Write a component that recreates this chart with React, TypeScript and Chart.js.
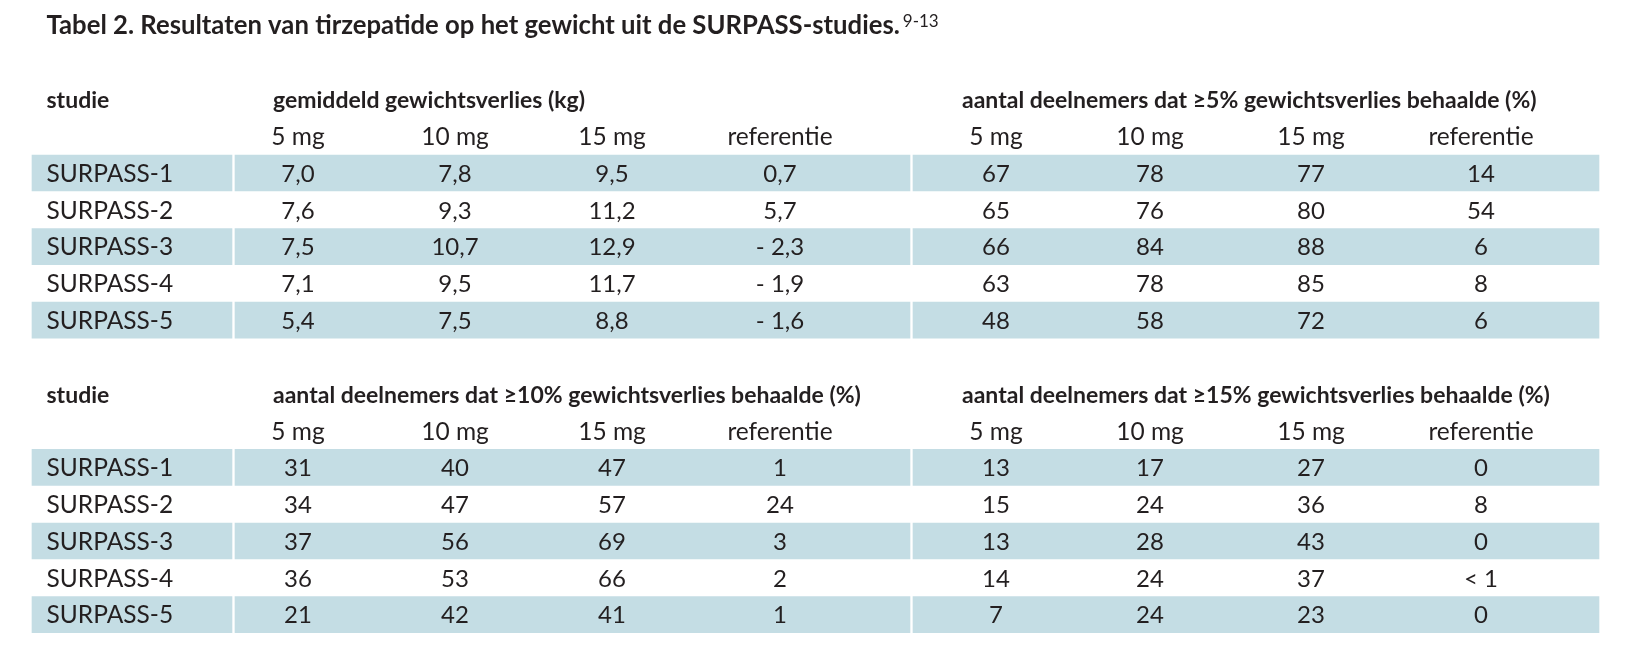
import React, { useEffect, useRef } from 'react';
import { Chart, registerables } from 'chart.js';

Chart.register(...registerables);

// ---------- DATA ----------
const title = 'Tabel 2. Resultaten van tirzepatide op het gewicht uit de SURPASS-studies.';
const titleRefs = '9-13';
const studyHeader = 'studie';
const studies = ['SURPASS-1', 'SURPASS-2', 'SURPASS-3', 'SURPASS-4', 'SURPASS-5'];
const doses = ['5 mg', '10 mg', '15 mg', 'referentie'];
const groupTitles = [
  'gemiddeld gewichtsverlies (kg)',
  'aantal deelnemers dat ≥5% gewichtsverlies behaalde (%)',
  'aantal deelnemers dat ≥10% gewichtsverlies behaalde (%)',
  'aantal deelnemers dat ≥15% gewichtsverlies behaalde (%)',
];

// mean weight loss (kg)
const kg5mg = [7.0, 7.6, 7.5, 7.1, 5.4];
const kg10mg = [7.8, 9.3, 10.7, 9.5, 7.5];
const kg15mg = [9.5, 11.2, 12.9, 11.7, 8.8];
const kgRef = [0.7, 5.7, -2.3, -1.9, -1.6];

// participants reaching >=5% weight loss (%)
const ge5pct5mg = [67, 65, 66, 63, 48];
const ge5pct10mg = [78, 76, 84, 78, 58];
const ge5pct15mg = [77, 80, 88, 85, 72];
const ge5pctRef = [14, 54, 6, 8, 6];

// participants reaching >=10% weight loss (%)
const ge10pct5mg = [31, 34, 37, 36, 21];
const ge10pct10mg = [40, 47, 56, 53, 42];
const ge10pct15mg = [47, 57, 69, 66, 41];
const ge10pctRef = [1, 24, 3, 2, 1];

// participants reaching >=15% weight loss (%)
const ge15pct5mg = [13, 15, 13, 14, 7];
const ge15pct10mg = [17, 24, 28, 24, 24];
const ge15pct15mg = [27, 36, 43, 37, 23];
const ge15pctRef: (number | string)[] = [0, 8, 0, '< 1', 0];

// ---------- LAYOUT / STYLE ----------
const W = 1632;
const H = 672;
const Y_MIN = -4.7;
const Y_MAX = 13.56;
const TABLE_ROW_START = [0, 8];
const LABEL_BLOCK = [32, 232];
const LEFT_BLOCK = [235, 910];
const RIGHT_BLOCK = [913, 1599];
const LEFT_COLS = [298, 455, 612, 780];
const RIGHT_COLS = [996, 1150, 1311, 1481];
const LABEL_X = 46.5;
const LEFT_HEADER_X = 273;
const RIGHT_HEADER_X = 962;
const TITLE_X = 46.5;
const TITLE_ROW = -3.77;
const HEADER_ROW = -1.76;
const SUBHEADER_ROW = -0.75;
const STRIPE = '#c4dde4';
const INK = '#231f20';
const FONT = 'Lato, "Open Sans", sans-serif';
const TITLE_SIZE = 25.7;
const HEADER_SIZE = 23;
const BODY_SIZE = 24.5;
const NUM_SIZE = 24;
const ROW_BASE = 8.8;

const fmtKg = (v: number) => (v < 0 ? '- ' : '') + Math.abs(v).toFixed(1).replace('.', ',');
const fmtPct = (v: number | string) => (typeof v === 'number' ? String(v) : v);

const panels = [
  { row0: TABLE_ROW_START[0], cols: LEFT_COLS, hx: LEFT_HEADER_X, title: groupTitles[0], series: [kg5mg, kg10mg, kg15mg, kgRef], fmt: (v: any) => fmtKg(v) },
  { row0: TABLE_ROW_START[0], cols: RIGHT_COLS, hx: RIGHT_HEADER_X, title: groupTitles[1], series: [ge5pct5mg, ge5pct10mg, ge5pct15mg, ge5pctRef], fmt: fmtPct },
  { row0: TABLE_ROW_START[1], cols: LEFT_COLS, hx: LEFT_HEADER_X, title: groupTitles[2], series: [ge10pct5mg, ge10pct10mg, ge10pct15mg, ge10pctRef], fmt: fmtPct },
  { row0: TABLE_ROW_START[1], cols: RIGHT_COLS, hx: RIGHT_HEADER_X, title: groupTitles[3], series: [ge15pct5mg, ge15pct10mg, ge15pct15mg, ge15pctRef], fmt: fmtPct },
];

function stripeData(block: number[]) {
  const out: { x: number[]; y: number }[] = [];
  TABLE_ROW_START.forEach((r0) => {
    studies.forEach((_, i) => {
      if (i % 2 === 0) out.push({ x: [block[0], block[1]], y: r0 + i });
    });
  });
  return out;
}

const tableText = {
  id: 'tableText',
  afterDatasetsDraw(chart: any) {
    const { ctx, scales } = chart;
    const xs = scales.x;
    const ys = scales.y;
    const px = (v: number) => xs.getPixelForValue(v);
    const py = (r: number) => ys.getPixelForValue(r);
    ctx.save();
    ctx.fillStyle = INK;
    ctx.textBaseline = 'alphabetic';

    // title
    ctx.font = `bold ${TITLE_SIZE}px ${FONT}`;
    ctx.textAlign = 'left';
    ctx.fillText(title, px(TITLE_X), py(TITLE_ROW));
    const tw = ctx.measureText(title).width;
    ctx.font = `17px ${FONT}`;
    ctx.fillText(titleRefs, px(TITLE_X) + tw + 3, py(TITLE_ROW) - 7);

    TABLE_ROW_START.forEach((r0) => {
      ctx.font = `bold ${HEADER_SIZE}px ${FONT}`;
      ctx.textAlign = 'left';
      ctx.fillText(studyHeader, px(LABEL_X), py(r0 + HEADER_ROW));
      ctx.font = `${BODY_SIZE}px ${FONT}`;
      studies.forEach((s, i) => {
        ctx.fillText(s, px(LABEL_X), py(r0 + i) + ROW_BASE);
      });
    });

    panels.forEach((p) => {
      ctx.textAlign = 'left';
      ctx.font = `bold ${HEADER_SIZE}px ${FONT}`;
      ctx.fillText(p.title, px(p.hx), py(p.row0 + HEADER_ROW));
      ctx.textAlign = 'center';
      ctx.font = `${BODY_SIZE}px ${FONT}`;
      doses.forEach((d, j) => {
        ctx.fillText(d, px(p.cols[j]), py(p.row0 + SUBHEADER_ROW));
      });
      ctx.font = `${NUM_SIZE}px ${FONT}`;
      p.series.forEach((arr: any[], j: number) => {
        arr.forEach((v, i) => {
          ctx.fillText(p.fmt(v), px(p.cols[j]), py(p.row0 + i) + ROW_BASE);
        });
      });
    });
    ctx.restore();
  },
};

export default function App() {
  const ref = useRef<HTMLCanvasElement | null>(null);
  useEffect(() => {
    document.body.style.margin = '0';
    document.body.style.background = '#ffffff';
    if (!ref.current) return;
    const ds = (block: number[], label: string) => ({
      label,
      data: stripeData(block) as any,
      backgroundColor: STRIPE,
      borderWidth: 0,
      barThickness: 36,
      grouped: false,
    });
    const chart = new Chart(ref.current, {
      type: 'bar',
      data: {
        datasets: [ds(LABEL_BLOCK, 'studie'), ds(LEFT_BLOCK, 'links'), ds(RIGHT_BLOCK, 'rechts')],
      },
      options: {
        indexAxis: 'y',
        animation: false,
        responsive: true,
        maintainAspectRatio: false,
        layout: { padding: 0 },
        plugins: { legend: { display: false }, tooltip: { enabled: false }, title: { display: false } },
        scales: {
          x: { type: 'linear', min: 0, max: W, bounds: 'data', display: false, offset: false },
          y: { type: 'linear', min: Y_MIN, max: Y_MAX, reverse: true, bounds: 'data', display: false, offset: false },
        },
      } as any,
      plugins: [tableText],
    });
    return () => chart.destroy();
  }, []);
  return (
    <div style={{ position: 'relative', width: W, height: H, background: '#fff' }}>
      <canvas ref={ref} />
    </div>
  );
}
